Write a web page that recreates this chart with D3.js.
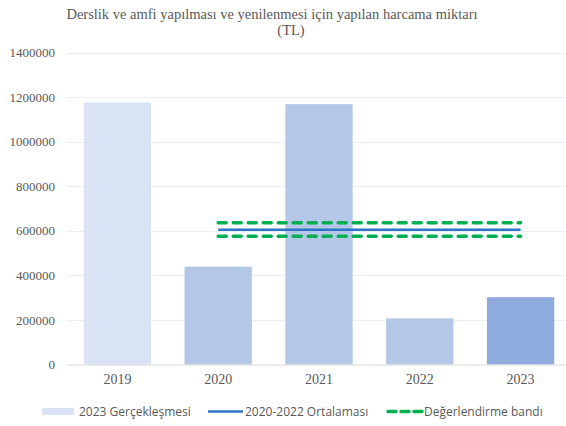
<!DOCTYPE html>
<html>
<head>
<meta charset="utf-8">
<script src="https://cdn.jsdelivr.net/npm/d3@7"></script>
<style>
  body { margin: 0; background: #fff; }
  svg { display: block; }
</style>
</head>
<body>
<div id="chart"></div>
<script>
// data
const years = ['2019', '2020', '2021', '2022', '2023'];
const spending = [1176000, 439000, 1168000, 207000, 302000];
const yTicks = [0, 200000, 400000, 600000, 800000, 1000000, 1200000, 1400000];
const avgYears = ['2020', '2023'];
const average = 605000;
const bandValues = [636000, 575000];
const titleLines = ['Derslik ve amfi yapılması ve yenilenmesi için yapılan harcama miktarı', '(TL)'];
const legendLabels = ['2023 Gerçekleşmesi', '2020-2022 Ortalaması', 'Değerlendirme bandı'];

const width = 566, height = 426;
const margin = { top: 52.5, right: -5, bottom: 61.5, left: 67 };
const barColors = ['#dae3f3', '#b4c7e7', '#b4c7e7', '#b4c7e7', '#8faadc'];
const blue = '#2e75c4', green = '#00b050', textGray = '#595959';
const serif = '"Liberation Serif", "Times New Roman", serif';

const svg = d3.select('#chart').append('svg')
  .attr('width', width)
  .attr('height', height);

const x = d3.scaleBand()
  .domain(years)
  .range([margin.left, width - margin.right])
  .paddingInner(0.332)
  .paddingOuter(0.166);

const y = d3.scaleLinear()
  .domain([0, 1400000])
  .range([height - margin.bottom, margin.top]);

// title
svg.append('g')
  .selectAll('text')
  .data(titleLines)
  .join('text')
  .attr('x', (d, i) => i === 0 ? 272 : 291)
  .attr('y', (d, i) => 19 + i * 16)
  .attr('text-anchor', 'middle')
  .attr('font-family', serif)
  .attr('font-size', '14.5px')
  .attr('fill', textGray)
  .text(d => d);

// grid
svg.append('g')
  .selectAll('line')
  .data(yTicks.filter(t => t > 0))
  .join('line')
  .attr('x1', margin.left)
  .attr('x2', width)
  .attr('y1', d => Math.round(y(d)) + 0.5)
  .attr('y2', d => Math.round(y(d)) + 0.5)
  .attr('stroke', '#e9eef6')
  .attr('stroke-width', 1.2);

// y labels
const yAxis = svg.append('g')
  .attr('transform', 'translate(' + (margin.left - 12) + ',0)')
  .call(d3.axisLeft(y).tickValues(yTicks).tickSize(0).tickPadding(0).tickFormat(d3.format('d')))
  .attr('font-family', serif)
  .attr('font-size', 13);
yAxis.select('.domain').remove();
yAxis.selectAll('text').attr('fill', textGray);

// bars
svg.append('g')
  .selectAll('rect')
  .data(spending)
  .join('rect')
  .attr('x', (d, i) => x(years[i]))
  .attr('y', d => y(d))
  .attr('width', x.bandwidth())
  .attr('height', d => y(0) - y(d))
  .attr('fill', (d, i) => barColors[i]);

// baseline + x labels
const xAxis = svg.append('g')
  .attr('transform', 'translate(0,' + y(0) + ')')
  .call(d3.axisBottom(x).tickSize(0).tickPadding(10))
  .attr('font-family', serif)
  .attr('font-size', 14);
xAxis.select('.domain')
  .attr('stroke', '#d9d9d9')
  .attr('d', 'M' + margin.left + ',0.5H' + width);
xAxis.selectAll('text').attr('fill', textGray);

// average and band lines
const lineStart = x(avgYears[0]) + x.bandwidth() / 2;
const lineEnd = x(avgYears[1]) + x.bandwidth() / 2;

svg.append('line')
  .attr('x1', lineStart).attr('x2', lineEnd)
  .attr('y1', y(average)).attr('y2', y(average))
  .attr('stroke', blue)
  .attr('stroke-width', 2.5);

svg.append('g')
  .selectAll('line')
  .data(bandValues)
  .join('line')
  .attr('x1', lineStart).attr('x2', lineEnd)
  .attr('y1', d => y(d)).attr('y2', d => y(d))
  .attr('stroke', green)
  .attr('stroke-width', 3.5)
  .attr('stroke-linecap', 'round')
  .attr('stroke-dasharray', '8,7');

// legend
const legend = svg.append('g').attr('transform', 'translate(0,411.5)');
const legendFont = '"Open Sans", "Noto Sans", sans-serif';

legend.append('rect')
  .attr('x', 42).attr('y', -3.5)
  .attr('width', 32).attr('height', 7)
  .attr('fill', barColors[0]);
legend.append('line')
  .attr('x1', 208).attr('x2', 243)
  .attr('stroke', blue).attr('stroke-width', 2.5);
legend.append('line')
  .attr('x1', 388).attr('x2', 422)
  .attr('stroke', green).attr('stroke-width', 3.5)
  .attr('stroke-linecap', 'round')
  .attr('stroke-dasharray', '8,5');

legend.selectAll('text')
  .data(legendLabels)
  .join('text')
  .attr('x', (d, i) => [79, 245, 424][i])
  .attr('dy', '0.35em')
  .attr('font-family', legendFont)
  .attr('font-size', 12)
  .attr('fill', textGray)
  .text(d => d);
</script>
</body>
</html>
